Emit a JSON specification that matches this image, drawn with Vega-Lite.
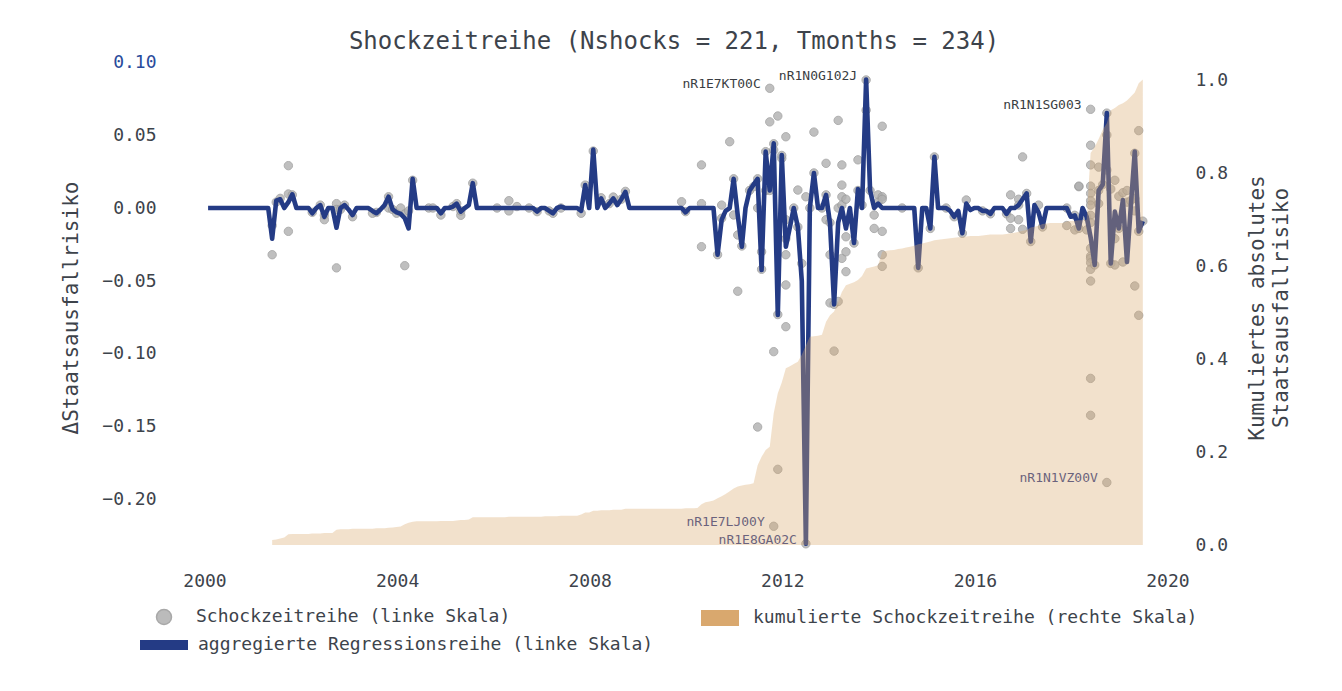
{
"$schema":"https://vega.github.io/schema/vega-lite/v6.json",
"width":1032,"height":505,
"autosize":{"type":"none"},
"padding":{"left":158,"top":55,"right":152,"bottom":131},
"background":"white",
"config":{"view":{"stroke":null},"font":"DejaVu Sans Mono",
"axis":{"grid":false,"domain":false,"ticks":false,"labelFont":"DejaVu Sans Mono","labelFontSize":18,"labelColor":"#3d434b","titleFont":"DejaVu Sans Mono","titleFontSize":21,"titleFontWeight":"normal","titleColor":"#3d434b"},
"legend":{"labelFont":"DejaVu Sans Mono","labelFontSize":18,"labelColor":"#3d434b","padding":0,"title":null,"labelLimit":0}},
"title":{"text":"Shockzeitreihe (Nshocks = 221, Tmonths = 234)","font":"DejaVu Sans Mono","fontSize":24,"fontWeight":"normal","color":"#3d434b","anchor":"middle","frame":"group","offset":-1},
"datasets":{
"m":[
{"d":"2000-01-28","v":0},{"d":"2000-02-28","v":0},{"d":"2000-03-28","v":0},{"d":"2000-04-28","v":0},{"d":"2000-05-28","v":0},{"d":"2000-06-28","v":0},{"d":"2000-07-28","v":0},{"d":"2000-08-28","v":0},{"d":"2000-09-28","v":0},{"d":"2000-10-28","v":0},{"d":"2000-11-28","v":0},{"d":"2000-12-28","v":0},
{"d":"2001-01-28","v":0},{"d":"2001-02-28","v":0},{"d":"2001-03-28","v":0},{"d":"2001-04-28","v":0},{"d":"2001-05-28","v":-0.021,"c":0.011},{"d":"2001-06-28","v":0.005,"c":0.012},{"d":"2001-07-28","v":0.006,"c":0.014},{"d":"2001-08-28","v":0,"c":0.016},{"d":"2001-09-28","v":0.004,"c":0.023},{"d":"2001-10-28","v":0.0094,"c":0.024},{"d":"2001-11-28","v":0,"c":0.024},{"d":"2001-12-28","v":0,"c":0.024},
{"d":"2002-01-28","v":0,"c":0.024},{"d":"2002-02-28","v":0,"c":0.024},{"d":"2002-03-28","v":-0.0036,"c":0.025},{"d":"2002-04-28","v":0,"c":0.025},{"d":"2002-05-28","v":0.002,"c":0.025},{"d":"2002-06-28","v":-0.006,"c":0.026},{"d":"2002-07-28","v":0,"c":0.026},{"d":"2002-08-28","v":0,"c":0.026},{"d":"2002-09-28","v":-0.0135,"c":0.033},{"d":"2002-10-28","v":0,"c":0.034},{"d":"2002-11-28","v":0.002,"c":0.034},{"d":"2002-12-28","v":-0.001,"c":0.034},
{"d":"2003-01-28","v":-0.0048,"c":0.035},{"d":"2003-02-28","v":0,"c":0.035},{"d":"2003-03-28","v":0,"c":0.035},{"d":"2003-04-28","v":0,"c":0.035},{"d":"2003-05-28","v":0,"c":0.035},{"d":"2003-06-28","v":-0.002,"c":0.035},{"d":"2003-07-28","v":-0.0036,"c":0.036},{"d":"2003-08-28","v":-0.001,"c":0.036},{"d":"2003-09-28","v":0.002,"c":0.036},{"d":"2003-10-28","v":0.0077,"c":0.037},{"d":"2003-11-28","v":-0.001,"c":0.038},{"d":"2003-12-28","v":-0.003,"c":0.039},
{"d":"2004-01-28","v":-0.004,"c":0.040},{"d":"2004-02-28","v":-0.007,"c":0.045},{"d":"2004-03-28","v":-0.014,"c":0.048},{"d":"2004-04-28","v":0.020,"c":0.050},{"d":"2004-05-28","v":0,"c":0.051},{"d":"2004-06-28","v":0,"c":0.051},{"d":"2004-07-28","v":0,"c":0.051},{"d":"2004-08-28","v":0,"c":0.051},{"d":"2004-09-28","v":0,"c":0.051},{"d":"2004-10-28","v":0,"c":0.051},{"d":"2004-11-28","v":-0.0036,"c":0.052},{"d":"2004-12-28","v":0,"c":0.052},
{"d":"2005-01-28","v":0,"c":0.052},{"d":"2005-02-28","v":0.001,"c":0.052},{"d":"2005-03-28","v":0.003,"c":0.053},{"d":"2005-04-28","v":-0.0025,"c":0.054},{"d":"2005-05-28","v":0,"c":0.054},{"d":"2005-06-28","v":0.002,"c":0.055},{"d":"2005-07-28","v":0.017,"c":0.060},{"d":"2005-08-28","v":0,"c":0.060},{"d":"2005-09-28","v":0,"c":0.060},{"d":"2005-10-28","v":0,"c":0.060},{"d":"2005-11-28","v":0,"c":0.060},{"d":"2005-12-28","v":0,"c":0.060},
{"d":"2006-01-28","v":0,"c":0.060},{"d":"2006-02-28","v":0,"c":0.060},{"d":"2006-03-28","v":0,"c":0.060},{"d":"2006-04-28","v":0,"c":0.061},{"d":"2006-05-28","v":0,"c":0.061},{"d":"2006-06-28","v":0,"c":0.061},{"d":"2006-07-28","v":0,"c":0.061},{"d":"2006-08-28","v":0,"c":0.061},{"d":"2006-09-28","v":0,"c":0.061},{"d":"2006-10-28","v":0,"c":0.061},{"d":"2006-11-28","v":-0.0025,"c":0.061},{"d":"2006-12-28","v":0,"c":0.061},
{"d":"2007-01-28","v":0,"c":0.062},{"d":"2007-02-28","v":-0.002,"c":0.062},{"d":"2007-03-28","v":-0.0036,"c":0.062},{"d":"2007-04-28","v":0,"c":0.062},{"d":"2007-05-28","v":0.001,"c":0.063},{"d":"2007-06-28","v":0,"c":0.063},{"d":"2007-07-28","v":0,"c":0.063},{"d":"2007-08-28","v":0,"c":0.063},{"d":"2007-09-28","v":0,"c":0.063},{"d":"2007-10-28","v":-0.002,"c":0.066},{"d":"2007-11-28","v":0.0157,"c":0.070},{"d":"2007-12-28","v":0,"c":0.070},
{"d":"2008-01-28","v":0.04,"c":0.074},{"d":"2008-02-28","v":0,"c":0.074},{"d":"2008-03-28","v":0.0066,"c":0.075},{"d":"2008-04-28","v":0,"c":0.075},{"d":"2008-05-28","v":0.003,"c":0.075},{"d":"2008-06-28","v":0.0066,"c":0.076},{"d":"2008-07-28","v":0.002,"c":0.076},{"d":"2008-08-28","v":0.006,"c":0.076},{"d":"2008-09-28","v":0.011,"c":0.078},{"d":"2008-10-28","v":0,"c":0.078},{"d":"2008-11-28","v":0,"c":0.078},{"d":"2008-12-28","v":0,"c":0.078},
{"d":"2009-01-28","v":0,"c":0.078},{"d":"2009-02-28","v":0,"c":0.078},{"d":"2009-03-28","v":0,"c":0.078},{"d":"2009-04-28","v":0,"c":0.078},{"d":"2009-05-28","v":0,"c":0.078},{"d":"2009-06-28","v":0,"c":0.078},{"d":"2009-07-28","v":0,"c":0.078},{"d":"2009-08-28","v":0,"c":0.078},{"d":"2009-09-28","v":0,"c":0.078},{"d":"2009-10-28","v":0,"c":0.078},{"d":"2009-11-28","v":0,"c":0.078},{"d":"2009-12-28","v":-0.003,"c":0.079},
{"d":"2010-01-28","v":0,"c":0.079},{"d":"2010-02-28","v":0,"c":0.079},{"d":"2010-03-28","v":0,"c":0.080},{"d":"2010-04-28","v":0,"c":0.088},{"d":"2010-05-28","v":0,"c":0.092},{"d":"2010-06-28","v":0,"c":0.094},{"d":"2010-07-28","v":0,"c":0.096},{"d":"2010-08-28","v":-0.032,"c":0.101},{"d":"2010-09-28","v":-0.008,"c":0.105},{"d":"2010-10-28","v":-0.002,"c":0.110},{"d":"2010-11-28","v":0,"c":0.116},{"d":"2010-12-28","v":0.020,"c":0.122},
{"d":"2011-01-28","v":-0.005,"c":0.126},{"d":"2011-02-28","v":-0.0265,"c":0.128},{"d":"2011-03-28","v":0,"c":0.130},{"d":"2011-04-28","v":0.012,"c":0.131},{"d":"2011-05-28","v":0.016,"c":0.133},{"d":"2011-06-28","v":0.020,"c":0.172},{"d":"2011-07-28","v":-0.0425,"c":0.190},{"d":"2011-08-28","v":0.0386,"c":0.205},{"d":"2011-09-28","v":0.012,"c":0.212},{"d":"2011-10-28","v":0.0443,"c":0.284},{"d":"2011-11-28","v":-0.0733,"c":0.327},{"d":"2011-12-28","v":0.0363,"c":0.350},
{"d":"2012-01-28","v":-0.0265,"c":0.381},{"d":"2012-02-28","v":-0.013,"c":0.385},{"d":"2012-03-28","v":0,"c":0.390},{"d":"2012-04-28","v":-0.013,"c":0.395},{"d":"2012-05-28","v":-0.05,"c":0.410},{"d":"2012-06-28","v":-0.23,"c":0.430},{"d":"2012-07-28","v":0,"c":0.449},{"d":"2012-08-28","v":0.024,"c":0.450},{"d":"2012-09-28","v":0,"c":0.451},{"d":"2012-10-28","v":0,"c":0.453},{"d":"2012-11-28","v":0.009,"c":0.481},{"d":"2012-12-28","v":-0.0105,"c":0.495},
{"d":"2013-01-28","v":-0.066,"c":0.503},{"d":"2013-02-28","v":-0.01,"c":0.525},{"d":"2013-03-28","v":0,"c":0.545},{"d":"2013-04-28","v":-0.014,"c":0.560},{"d":"2013-05-28","v":0,"c":0.563},{"d":"2013-06-28","v":-0.024,"c":0.566},{"d":"2013-07-28","v":0.013,"c":0.571},{"d":"2013-08-28","v":0,"c":0.580},{"d":"2013-09-28","v":0.088,"c":0.596},{"d":"2013-10-28","v":0.012,"c":0.598},{"d":"2013-11-28","v":0,"c":0.600},{"d":"2013-12-28","v":0.003,"c":0.603},
{"d":"2014-01-28","v":0,"c":0.632},{"d":"2014-02-28","v":0,"c":0.634},{"d":"2014-03-28","v":0,"c":0.635},{"d":"2014-04-28","v":0,"c":0.636},{"d":"2014-05-28","v":0,"c":0.638},{"d":"2014-06-28","v":0,"c":0.639},{"d":"2014-07-28","v":0,"c":0.641},{"d":"2014-08-28","v":0,"c":0.643},{"d":"2014-09-28","v":0,"c":0.645},{"d":"2014-10-28","v":-0.041,"c":0.648},{"d":"2014-11-28","v":0,"c":0.650},{"d":"2014-12-28","v":0,"c":0.652},
{"d":"2015-01-28","v":-0.014,"c":0.654},{"d":"2015-02-28","v":0.035,"c":0.657},{"d":"2015-03-28","v":0,"c":0.658},{"d":"2015-04-28","v":0,"c":0.659},{"d":"2015-05-28","v":0,"c":0.660},{"d":"2015-06-28","v":-0.002,"c":0.661},{"d":"2015-07-28","v":-0.006,"c":0.662},{"d":"2015-08-28","v":-0.002,"c":0.663},{"d":"2015-09-28","v":-0.0173,"c":0.664},{"d":"2015-10-28","v":0.003,"c":0.665},{"d":"2015-11-28","v":-0.0014,"c":0.666},{"d":"2015-12-28","v":0,"c":0.666},
{"d":"2016-01-28","v":0,"c":0.666},{"d":"2016-02-28","v":-0.002,"c":0.667},{"d":"2016-03-28","v":-0.002,"c":0.668},{"d":"2016-04-28","v":-0.004,"c":0.669},{"d":"2016-05-28","v":0,"c":0.669},{"d":"2016-06-28","v":0,"c":0.669},{"d":"2016-07-28","v":0,"c":0.669},{"d":"2016-08-28","v":-0.004,"c":0.670},{"d":"2016-09-28","v":0,"c":0.672},{"d":"2016-10-28","v":0,"c":0.673},{"d":"2016-11-28","v":0.002,"c":0.675},{"d":"2016-12-28","v":0.006,"c":0.677},
{"d":"2017-01-28","v":0.010,"c":0.679},{"d":"2017-02-28","v":-0.023,"c":0.684},{"d":"2017-03-28","v":0.002,"c":0.686},{"d":"2017-04-28","v":-0.003,"c":0.688},{"d":"2017-05-28","v":-0.013,"c":0.692},{"d":"2017-06-28","v":0,"c":0.693},{"d":"2017-07-28","v":0,"c":0.694},{"d":"2017-08-28","v":0,"c":0.694},{"d":"2017-09-28","v":0,"c":0.694},{"d":"2017-10-28","v":0,"c":0.694},{"d":"2017-11-28","v":0,"c":0.697},{"d":"2017-12-28","v":-0.006,"c":0.698},
{"d":"2018-01-28","v":-0.005,"c":0.699},{"d":"2018-02-28","v":-0.014,"c":0.700},{"d":"2018-03-28","v":0,"c":0.700},{"d":"2018-04-28","v":-0.006,"c":0.701},{"d":"2018-05-28","v":-0.02,"c":0.845},{"d":"2018-06-28","v":-0.039,"c":0.858},{"d":"2018-07-28","v":0.012,"c":0.875},{"d":"2018-08-28","v":0.016,"c":0.895},{"d":"2018-09-28","v":0.065,"c":0.909},{"d":"2018-10-28","v":-0.038,"c":0.937},{"d":"2018-11-28","v":-0.0025,"c":0.942},{"d":"2018-12-28","v":-0.014,"c":0.948},
{"d":"2019-01-28","v":0.0055,"c":0.952},{"d":"2019-02-28","v":-0.037,"c":0.958},{"d":"2019-03-28","v":0,"c":0.966},{"d":"2019-04-28","v":0.0386,"c":0.975},{"d":"2019-05-28","v":-0.016,"c":0.995},{"d":"2019-06-28","v":-0.009,"c":1.003}
],
"p":[
{"d":"2001-05-28","v":-0.032},{"d":"2001-05-28","v":-0.012},{"d":"2001-06-28","v":0.004},{"d":"2001-07-28","v":0.0066},{"d":"2001-09-28","v":0.029},{"d":"2001-09-28","v":-0.016},{"d":"2001-09-28","v":0.0096},{"d":"2001-10-28","v":0.009},
{"d":"2002-03-28","v":-0.003},{"d":"2002-05-28","v":0.002},{"d":"2002-06-28","v":-0.005},{"d":"2002-06-28","v":-0.008},{"d":"2002-09-28","v":-0.041},{"d":"2002-09-28","v":0.003},{"d":"2002-09-28","v":-0.001},{"d":"2002-10-28","v":-0.001},{"d":"2002-11-28","v":0.002},
{"d":"2003-01-28","v":-0.006},{"d":"2003-06-28","v":-0.0036},{"d":"2003-07-28","v":-0.003},{"d":"2003-10-28","v":0.0077},{"d":"2003-10-28","v":0.0},{"d":"2003-11-28","v":-0.001},{"d":"2003-12-28","v":-0.0036},
{"d":"2004-01-28","v":0.0},{"d":"2004-02-28","v":-0.0395},{"d":"2004-02-28","v":-0.004},{"d":"2004-03-28","v":-0.002},{"d":"2004-04-28","v":0.019},{"d":"2004-08-28","v":0.0},{"d":"2004-09-28","v":0.0},{"d":"2004-11-28","v":-0.0048},
{"d":"2005-02-28","v":0.001},{"d":"2005-03-28","v":0.003},{"d":"2005-04-28","v":-0.005},{"d":"2005-04-28","v":-0.002},{"d":"2005-07-28","v":0.017},
{"d":"2006-01-28","v":0.0},{"d":"2006-04-28","v":0.005},{"d":"2006-04-28","v":-0.002},{"d":"2006-06-28","v":0.001},{"d":"2006-09-28","v":0.0},{"d":"2006-11-28","v":-0.0025},
{"d":"2007-02-28","v":-0.002},{"d":"2007-03-28","v":-0.0036},{"d":"2007-05-28","v":0.0},{"d":"2007-10-28","v":-0.0036},{"d":"2007-11-28","v":0.0157},
{"d":"2008-01-28","v":0.039},{"d":"2008-03-28","v":0.007},{"d":"2008-05-28","v":0.003},{"d":"2008-06-28","v":0.0075},{"d":"2008-08-28","v":0.006},{"d":"2008-09-28","v":0.0114},
{"d":"2009-11-28","v":0.0043},{"d":"2009-12-28","v":-0.0025},
{"d":"2010-04-28","v":0.003},{"d":"2010-04-28","v":0.0295},{"d":"2010-04-28","v":-0.0265},{"d":"2010-08-28","v":-0.032},{"d":"2010-09-28","v":-0.007},{"d":"2010-09-28","v":0.002},{"d":"2010-11-28","v":0.0454},{"d":"2010-12-28","v":-0.0048},{"d":"2010-12-28","v":0.02},
{"d":"2011-01-28","v":-0.0185},{"d":"2011-01-28","v":-0.057},{"d":"2011-02-28","v":-0.026},{"d":"2011-04-28","v":0.012},{"d":"2011-05-28","v":0.0146},{"d":"2011-06-28","v":0.020},{"d":"2011-06-28","v":0.0},{"d":"2011-06-28","v":-0.150},{"d":"2011-07-28","v":-0.03},{"d":"2011-07-28","v":-0.042},{"d":"2011-08-28","v":0.0386},{"d":"2011-08-28","v":0.012},
{"d":"2011-09-28","v":0.059},{"d":"2011-09-28","v":0.012},{"d":"2011-09-28","v":0.082,"l":"nR1E7KT00C"},
{"d":"2011-10-28","v":0.0397},{"d":"2011-10-28","v":-0.0984},{"d":"2011-10-28","v":-0.218,"l":"nR1E7LJ00Y"},{"d":"2011-10-28","v":0.044},
{"d":"2011-11-28","v":0.063},{"d":"2011-11-28","v":-0.179},{"d":"2011-11-28","v":-0.073},{"d":"2011-12-28","v":0.034},{"d":"2011-12-28","v":0.036},
{"d":"2012-01-28","v":0.0488},{"d":"2012-01-28","v":-0.032},{"d":"2012-01-28","v":-0.021},{"d":"2012-01-28","v":-0.0813},{"d":"2012-01-28","v":-0.0527},{"d":"2012-01-28","v":-0.008},
{"d":"2012-03-28","v":0.0},{"d":"2012-04-28","v":0.0123},{"d":"2012-04-28","v":-0.013},{"d":"2012-05-28","v":-0.038},{"d":"2012-06-28","v":0.0077},{"d":"2012-06-28","v":-0.230,"l":"nR1E8GA02C"},{"d":"2012-07-28","v":0.0},{"d":"2012-08-28","v":0.052},{"d":"2012-08-28","v":0.024},{"d":"2012-10-28","v":0.0},
{"d":"2012-11-28","v":0.0306},{"d":"2012-11-28","v":-0.008},{"d":"2012-11-28","v":0.009},{"d":"2012-12-28","v":-0.032},{"d":"2012-12-28","v":-0.065},{"d":"2012-12-28","v":-0.010},
{"d":"2013-01-28","v":-0.098},{"d":"2013-01-28","v":-0.066},{"d":"2013-02-28","v":0.060},{"d":"2013-02-28","v":-0.064},{"d":"2013-02-28","v":0.0},
{"d":"2013-03-28","v":0.0295},{"d":"2013-03-28","v":0.0157},{"d":"2013-03-28","v":0.0077},{"d":"2013-03-28","v":-0.0345},{"d":"2013-03-28","v":0.002},
{"d":"2013-04-28","v":0.006},{"d":"2013-04-28","v":-0.0197},{"d":"2013-04-28","v":-0.030},{"d":"2013-04-28","v":-0.0436},
{"d":"2013-06-28","v":-0.024},{"d":"2013-07-28","v":0.012},{"d":"2013-07-28","v":0.033},{"d":"2013-08-28","v":0.002},{"d":"2013-09-28","v":0.0877,"l":"nR1N0G102J"},{"d":"2013-09-28","v":0.067},{"d":"2013-10-28","v":0.012},{"d":"2013-11-28","v":-0.0048},{"d":"2013-11-28","v":-0.014},{"d":"2013-12-28","v":0.009},{"d":"2013-12-28","v":0.004},
{"d":"2014-01-28","v":0.056},{"d":"2014-01-28","v":-0.016},{"d":"2014-01-28","v":-0.032},{"d":"2014-01-28","v":-0.040},{"d":"2014-01-28","v":0.0077},{"d":"2014-01-28","v":0.006},{"d":"2014-06-28","v":0.0},{"d":"2014-10-28","v":-0.041},
{"d":"2015-01-28","v":-0.014},{"d":"2015-02-28","v":0.035},{"d":"2015-05-28","v":0.0},{"d":"2015-07-28","v":-0.006},{"d":"2015-09-28","v":-0.0173},{"d":"2015-10-28","v":0.0055},
{"d":"2016-02-28","v":-0.002},{"d":"2016-04-28","v":-0.004},{"d":"2016-08-28","v":-0.004},{"d":"2016-09-28","v":0.009},{"d":"2016-09-28","v":-0.014},{"d":"2016-09-28","v":-0.007},{"d":"2016-11-28","v":0.006},{"d":"2016-11-28","v":0.002},{"d":"2016-11-28","v":-0.008},{"d":"2016-12-28","v":0.035},{"d":"2016-12-28","v":-0.0146},
{"d":"2017-01-28","v":0.010},{"d":"2017-02-28","v":-0.023},{"d":"2017-04-28","v":0.002},{"d":"2017-05-28","v":-0.013},{"d":"2017-11-28","v":-0.012},{"d":"2017-11-28","v":0.0},
{"d":"2018-01-28","v":-0.015},{"d":"2018-01-28","v":-0.005},{"d":"2018-02-28","v":0.0146},{"d":"2018-02-28","v":0.015},{"d":"2018-02-28","v":-0.014},{"d":"2018-04-28","v":-0.015},{"d":"2018-04-28","v":-0.006},
{"d":"2018-05-28","v":0.0676,"l":"nR1N1SG003"},{"d":"2018-05-28","v":0.043},{"d":"2018-05-28","v":0.0295},{"d":"2018-05-28","v":0.015},{"d":"2018-05-28","v":0.010},{"d":"2018-05-28","v":0.005},{"d":"2018-05-28","v":0.002},{"d":"2018-05-28","v":-0.005},{"d":"2018-05-28","v":-0.010},{"d":"2018-05-28","v":-0.0276},{"d":"2018-05-28","v":-0.033},{"d":"2018-05-28","v":-0.0345},{"d":"2018-05-28","v":-0.0375},{"d":"2018-05-28","v":-0.042},{"d":"2018-05-28","v":-0.050},{"d":"2018-05-28","v":-0.1167},{"d":"2018-05-28","v":-0.142},
{"d":"2018-06-28","v":-0.039},{"d":"2018-07-28","v":0.028},{"d":"2018-07-28","v":0.003},{"d":"2018-07-28","v":0.012},{"d":"2018-08-28","v":0.016},
{"d":"2018-09-28","v":0.065},{"d":"2018-09-28","v":0.050},{"d":"2018-09-28","v":0.026},{"d":"2018-09-28","v":-0.188,"l":"nR1N1VZ00V"},
{"d":"2018-10-28","v":0.013},{"d":"2018-10-28","v":-0.038},{"d":"2018-11-28","v":0.019},{"d":"2018-11-28","v":-0.039},{"d":"2018-11-28","v":-0.021},{"d":"2018-12-28","v":-0.014},{"d":"2018-12-28","v":0.008},
{"d":"2019-01-28","v":0.0105},{"d":"2019-01-28","v":-0.037},{"d":"2019-02-28","v":0.012},{"d":"2019-02-28","v":0.004},{"d":"2019-03-28","v":0.005},
{"d":"2019-04-28","v":0.0375},{"d":"2019-04-28","v":0.0066},{"d":"2019-04-28","v":-0.0534},{"d":"2019-04-28","v":-0.002},
{"d":"2019-05-28","v":0.053},{"d":"2019-05-28","v":-0.0735},{"d":"2019-05-28","v":-0.016},{"d":"2019-06-28","v":-0.009}
]},
"encoding":{"x":{"field":"d","type":"temporal","scale":{"type":"utc","domain":[{"year":1999,"month":1,"date":13,"utc":true},{"year":2020,"month":6,"date":20,"utc":true}]},
"axis":{"values":[{"year":2000,"utc":true},{"year":2004,"utc":true},{"year":2008,"utc":true},{"year":2012,"utc":true},{"year":2016,"utc":true},{"year":2020,"utc":true}],"format":"%Y","formatType":"utc","labelPadding":12,"title":null}}},
"layer":[
{"encoding":{"y":{"field":"v","type":"quantitative","scale":{"domain":[-0.2411,0.1048],"nice":false,"zero":false},
"axis":{"orient":"left","values":[0.1,0.05,0,-0.05,-0.1,-0.15,-0.2],"format":".2f","title":"ΔStaatsausfallrisiko","titlePadding":20,"labelPadding":2,"labelColor":{"condition":{"test":"datum.value > 0.09","value":"#2a4b9b"},"value":"#3d434b"}}}},
"layer":[
{"data":{"name":"p"},"mark":{"type":"point","filled":true,"size":70,"opacity":0.8,"stroke":"#9a9a9a","strokeWidth":1},
"encoding":{"color":{"datum":"Schockzeitreihe (linke Skala)","scale":{"range":["#b0b0b0"]},"legend":{"orient":"none","legendX":-3,"legendY":553,"symbolType":"circle","symbolSize":225,"labelOffset":23,"symbolOpacity":0.85}}}},
{"data":{"name":"m"},"mark":{"type":"line","strokeWidth":4.6,"strokeJoin":"round","strokeCap":"butt"},
"encoding":{"stroke":{"datum":"aggregierte Regressionsreihe (linke Skala)","scale":{"range":["#243b85"]},"legend":{"orient":"none","legendX":-23,"legendY":561,"symbolType":"M-1,0H1","symbolSize":2304,"symbolStrokeWidth":10,"labelOffset":5}}}},
{"data":{"name":"p"},"transform":[{"filter":"datum.l"}],"mark":{"type":"text","align":"right","baseline":"middle","dx":-9,"dy":-4,"font":"DejaVu Sans Mono","fontSize":13},
"encoding":{"text":{"field":"l"},"color":{"condition":{"test":"datum.v < 0","value":"#2f3c86"},"value":"#3a3d42"}}}
]},
{"data":{"name":"m"},"mark":{"type":"area","fillOpacity":0.35,"interpolate":"linear"},
"encoding":{"y":{"field":"c","type":"quantitative","scale":{"domain":[-0.0323,1.056],"nice":false,"zero":false},
"axis":{"orient":"right","values":[0,0.2,0.4,0.6,0.8,1],"format":".1f","title":["Kumuliertes absolutes","Staatsausfallrisiko"],"titleAngle":270,"titlePadding":16,"labelPadding":5,"titleLineHeight":24}},
"y2":{"datum":0},
"fill":{"datum":"kumulierte Schockzeitreihe (rechte Skala)","scale":{"range":["#d9a86e"]},"legend":{"orient":"none","legendX":542,"legendY":543,"symbolType":"M-1,-0.42H1V0.42H-1Z","symbolSize":1444,"symbolOpacity":1,"labelOffset":13}}}}
],
"resolve":{"scale":{"y":"independent"}}
}
